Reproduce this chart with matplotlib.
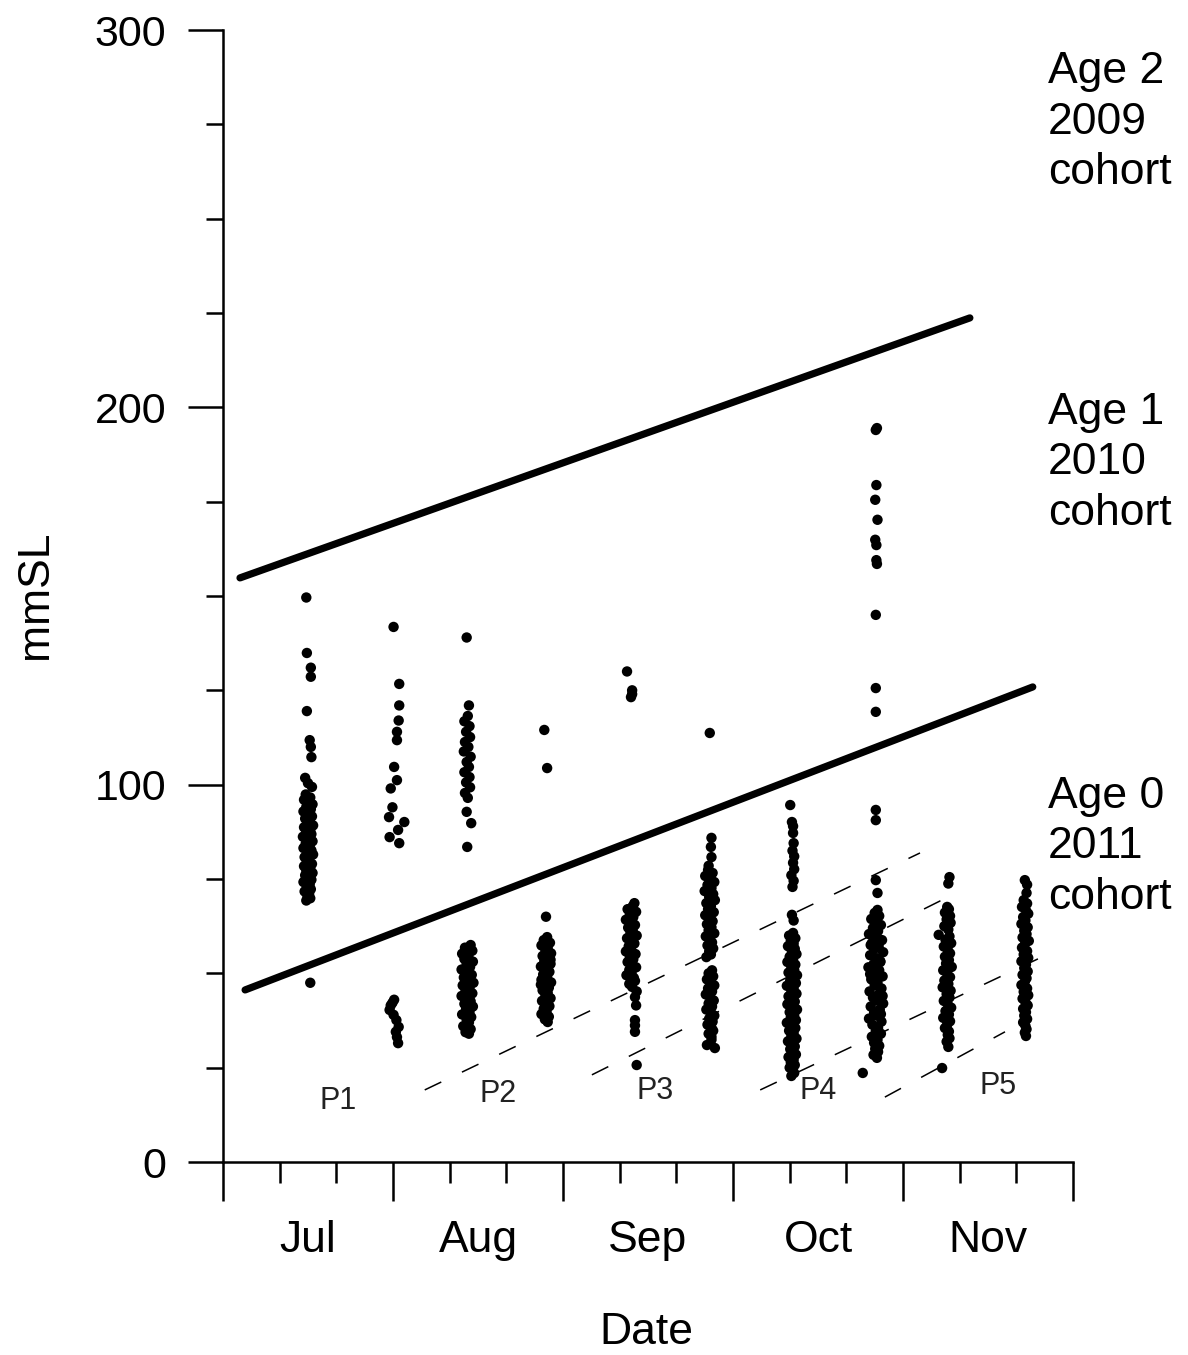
import matplotlib
matplotlib.use("Agg")
import matplotlib.pyplot as plt

plt.rcParams['font.family'] = ['Liberation Sans', 'DejaVu Sans']

# ---------------- data ----------------
# sampling days (days since 1 July) and (day offset, mmSL) readings per sample
sample_days = [15.0, 30.8, 43.1, 57.0, 72.0, 85.9, 100.4, 115.2, 127.8, 141.5]

s1 = [(-0.3,149.6),(-0.2,134.9),(0.5,131.0),(0.5,128.6),(-0.2,119.5),(0.3,111.8),(0.5,110.0),(0.6,107.3),(-0.5,101.8),(0.0,100.4),(0.7,99.4),
      (-0.4,97.4),(0.4,96.6),(-0.7,96.0),(0.2,95.3),(0.8,94.8),(-0.3,94.1),(0.5,93.5),(-0.8,92.9),(0.1,92.3),(0.7,91.6),(-0.5,91.0),(0.3,90.5),
      (-0.1,89.8),(0.9,89.2),(-0.7,88.7),(0.4,88.0),(-0.3,87.4),(0.6,86.9),(-0.9,86.2),(0.1,85.6),(0.8,85.0),(-0.4,84.4),(0.3,83.9),(-0.8,83.2),
      (0.6,82.6),(-0.1,82.0),(0.9,81.5),(-0.6,80.8),(0.2,80.2),(-0.2,79.7),(0.7,79.0),(-0.7,78.4),(0.4,77.8),(-0.3,77.3),(0.8,76.6),(-0.5,76.0),
      (0.1,75.4),(0.6,74.8),(-0.8,74.2),(0.3,73.6),(-0.2,73.0),(0.5,72.3),(-0.6,71.7),(0.2,71.1),(-0.1,70.5),(0.4,69.9),(-0.3,69.3),
      (0.4,47.5)]

s2 = [(-0.7,141.8),(0.3,126.7),(0.3,121.0),(0.2,117.0),(-0.1,114.0),(-0.1,111.8),(-0.6,104.7),(-0.1,101.2),(-1.2,99.0),(-0.9,94.0),
      (-1.5,91.4),(1.2,90.1),(0.1,88.0),(-1.4,86.1),(0.3,84.5),
      (-0.6,43.0),(-1.2,41.5),(-1.4,40.3),(-0.7,39.0),(-0.2,37.6),(0.2,35.8),(-0.3,34.5),(-0.1,33.1),(0.1,31.5),(-0.9,42.2)]

s3 = [(-0.1,139.0),(0.3,121.0),(0.1,118.2),(-0.5,116.8),(0.4,115.5),(-0.2,114.0),(0.5,112.6),(-0.4,111.3),(0.2,110.0),(-0.6,108.8),
      (0.6,107.4),(-0.1,106.0),(0.3,104.7),(-0.5,103.3),(0.4,102.0),(-0.2,100.6),(0.5,99.3),(-0.4,97.8),(0.1,96.5),(-0.1,92.8),(0.7,89.8),(0.0,83.5),
      (0.6,57.5),(-0.4,56.8),(0.9,56.0),(-0.9,55.2),(0.2,54.6),(-0.5,53.8),(1.0,53.1),(-0.1,52.4),(0.5,51.7),(-1.0,51.0),(0.2,50.3),(0.8,49.6),
      (-0.6,48.9),(0.0,48.2),(1.1,47.5),(-0.8,46.8),(0.4,46.1),(-0.3,45.4),(0.9,44.7),(-1.0,44.0),(0.1,43.3),(0.6,42.6),(-0.5,41.9),(1.0,41.2),
      (-0.2,40.5),(0.4,39.8),(-0.9,39.1),(0.7,38.4),(-0.1,37.7),(0.3,37.0),(-0.7,36.0),(0.6,35.2),(-0.3,34.4),(0.3,34.0)]

s4 = [(-0.3,114.5),(0.2,104.4),(0.0,65.0),
      (0.2,59.6),(-0.4,58.8),(0.7,58.1),(-0.8,57.4),(0.3,56.7),(-0.1,56.0),(0.9,55.3),(-0.6,54.6),(0.4,53.9),(-0.3,53.2),(0.8,52.5),(-0.9,51.8),
      (0.1,51.1),(0.6,50.4),(-0.5,49.7),(0.2,49.0),(-0.8,48.3),(0.9,47.6),(-0.2,46.9),(0.5,46.2),(-0.6,45.5),(0.3,44.8),(-0.1,44.1),(0.8,43.4),
      (-0.7,42.7),(0.2,42.0),(0.6,41.3),(-0.4,40.6),(0.1,39.9),(-0.8,39.2),(0.5,38.5),(-0.2,37.8),(0.3,37.1),(0.8,53.6),(-0.9,47.0)]

s5 = [(-0.7,130.0),(0.2,125.0),(0.2,124.0),(0.0,123.2),
      (0.6,68.6),(0.3,67.8),(-0.6,67.0),(0.9,66.3),(-0.2,65.6),(0.4,64.9),(-0.9,64.2),(0.1,63.5),(0.7,62.8),(-0.5,62.1),(0.3,61.4),(-0.1,60.7),
      (1.0,60.0),(-0.7,59.3),(0.2,58.6),(0.6,57.9),(-0.4,57.2),(0.0,56.5),(-0.9,55.8),(0.8,55.1),(-0.2,54.4),(0.4,53.7),(-0.6,53.0),(0.2,52.3),
      (0.9,51.6),(-0.3,50.9),(0.1,50.2),(-0.8,49.5),(0.5,48.8),(0.7,48.0),(-0.3,47.2),(0.2,46.4),(1.0,45.2),(0.7,43.7),(0.9,41.5),(0.7,37.6),
      (0.7,36.2),(0.7,34.5),(1.0,25.7)]

s6 = [(0.0,113.7),(0.3,85.9),(0.2,83.5),(0.3,80.8),(-0.2,78.5),
      (-0.3,77.4),(0.5,76.6),(-0.8,75.8),(0.2,75.0),(0.8,74.2),(-0.4,73.4),(0.3,72.6),(-0.9,71.8),(0.6,71.0),(-0.1,70.2),(0.9,69.4),(-0.6,68.6),
      (0.2,67.8),(-0.3,67.0),(0.7,66.2),(-0.8,65.4),(0.1,64.6),(0.5,63.8),(-0.5,63.0),(0.3,62.2),(-0.2,61.4),(0.8,60.6),(-0.7,59.8),(0.0,59.0),
      (0.4,58.2),(-0.4,57.4),(0.6,56.6),(-0.1,55.8),(0.2,55.0),(-0.6,54.3),
      (0.4,50.8),(-0.2,50.0),(0.6,49.2),(-0.5,48.4),(0.2,47.6),(0.8,46.8),(-0.3,46.0),(0.4,45.2),(-0.7,44.4),(0.1,43.6),(0.7,42.8),(-0.2,42.0),
      (0.4,41.2),(-0.6,40.4),(0.2,39.6),(0.8,38.8),(-0.1,38.0),(0.5,37.2),(-0.4,36.4),(0.3,35.6),(0.6,34.8),(-0.2,34.0),(0.3,33.2),(-0.5,31.0),
      (0.9,30.2),(0.3,32.4)]

s7 = [(-0.3,94.6),(0.0,90.1),(0.2,89.0),(0.2,87.2),(0.3,84.5),(0.1,82.5),(0.4,81.0),(0.2,79.3),(0.4,77.6),(-0.1,76.0),(0.3,74.5),(0.1,72.9),
      (0.0,65.5),(0.3,64.0),
      (0.2,60.7),(-0.5,60.0),(0.6,59.3),(-0.2,58.6),(0.3,57.9),(-0.7,57.2),(0.5,56.5),(0.0,55.8),(0.8,55.1),(-0.4,54.4),(0.2,53.7),(-0.8,53.0),
      (0.6,52.3),(-0.1,51.6),(0.4,50.9),(-0.6,50.2),(0.9,49.5),(0.1,48.8),(-0.3,48.1),(0.7,47.4),(-0.9,46.7),(0.3,46.0),(-0.1,45.3),(0.8,44.6),
      (-0.6,43.9),(0.2,43.2),(0.5,42.5),(-0.8,41.8),(0.0,41.1),(0.9,40.4),(-0.4,39.7),(0.4,39.0),(-0.2,38.3),(0.7,37.6),(-0.9,36.9),(0.1,36.2),
      (0.6,35.5),(-0.5,34.8),(0.3,34.1),(-0.1,33.4),(0.8,32.7),(-0.7,32.0),(0.2,31.3),(0.5,30.6),(-0.3,29.9),(0.0,29.2),(0.7,28.5),(-0.6,27.8),
      (0.3,27.1),(-0.2,26.4),(0.5,25.7),(-0.4,25.0),(0.1,24.3),(0.4,23.6),(-0.1,22.8)]

s8 = [(0.2,194.5),(0.0,194.0),(0.1,179.4),(-0.1,175.5),(0.3,170.2),(-0.1,164.9),(0.1,163.5),(0.1,159.5),(0.2,158.5),(0.0,145.0),
      (0.0,125.6),(0.0,119.3),(0.0,93.3),(0.0,90.6),(0.0,74.7),(0.3,71.3),
      (0.3,66.8),(-0.2,66.0),(0.6,65.2),(-0.8,64.4),(0.1,63.6),(0.9,62.8),(-0.5,62.0),(0.4,61.2),(-1.2,60.4),(0.0,59.6),(1.1,58.8),(-0.7,58.0),
      (0.5,57.2),(-0.3,56.4),(1.3,55.6),(-1.0,54.8),(0.2,54.0),(0.8,53.2),(-0.4,52.4),(-1.3,51.6),(0.6,50.8),(0.0,50.0),(1.2,49.2),(-0.8,48.4),
      (0.3,47.6),(-0.2,46.8),(1.0,46.0),(-1.1,45.2),(0.5,44.4),(-0.5,43.6),(0.1,42.8),(1.3,42.0),(-0.9,41.2),(0.7,40.4),(-0.3,39.6),(0.2,38.8),
      (-1.2,38.0),(1.0,37.2),(-0.6,36.4),(0.4,35.6),(0.0,34.8),(0.9,34.0),(-0.7,33.2),(0.3,32.4),(-0.3,31.6),(0.6,30.8),(-0.1,30.0),(0.4,29.2),
      (-0.4,28.4),(0.2,27.6),(0.8,53.0),(-0.9,57.5),(1.2,44.0),(-1.0,49.8),(0.9,39.2),(-0.6,61.0),(-2.3,23.6)]

s9 = [(0.4,75.5),(0.2,73.8),(0.0,67.6),
      (0.3,67.0),(-0.4,66.1),(0.5,65.2),(-0.1,64.3),(0.6,63.4),(-0.5,62.5),(0.2,61.6),(-1.5,60.2),(0.4,59.8),(-0.3,58.9),(0.7,58.0),(-0.6,57.1),
      (0.1,56.2),(0.5,55.3),(-0.4,54.4),(0.3,53.5),(-0.2,52.6),(0.8,51.7),(-0.7,50.8),(0.0,49.9),(0.5,49.0),(-0.5,48.1),(0.2,47.2),(-0.8,46.3),
      (0.6,45.4),(-0.1,44.5),(0.4,43.6),(-0.6,42.7),(0.1,41.8),(0.7,40.9),(-0.3,40.0),(0.3,39.1),(-0.7,38.2),(0.5,37.3),(0.0,36.4),(-0.4,35.5),
      (0.3,34.6),(0.1,33.7),(0.4,32.8),(-0.1,31.9),(0.2,30.5),(-0.9,24.9)]

s10 = [(0.0,74.7),(0.4,73.5),(0.3,71.3),
       (-0.2,69.4),(0.4,68.5),(-0.5,67.6),(0.2,66.7),(0.6,65.8),(-0.3,64.9),(0.1,64.0),(-0.6,63.1),(0.5,62.2),(-0.1,61.3),(0.3,60.4),(-0.4,59.5),
       (0.7,58.6),(0.0,57.7),(-0.5,56.8),(0.4,55.9),(-0.2,55.0),(0.6,54.1),(-0.6,53.2),(0.2,52.3),(-0.1,51.4),(0.5,50.5),(-0.4,49.6),(0.3,48.7),
       (0.0,47.8),(-0.6,46.9),(0.4,46.0),(-0.2,45.1),(0.6,44.2),(-0.4,43.3),(0.1,42.4),(0.5,41.5),(-0.3,40.6),(0.2,39.7),(-0.1,38.8),(0.4,37.9),
       (-0.3,37.0),(0.1,36.1),(0.3,35.2),(0.0,34.3),(0.2,33.4)]

samples = [s1, s2, s3, s4, s5, s6, s7, s8, s9, s10]

# cohort separation lines (day, mmSL)
cohort_lines = [[(3.0, 154.8), (131.8, 223.7)],
                [(3.9, 45.6), (142.9, 125.9)]]
# progression (P) dashed lines
p_lines = [[(35.6, 19.1), (123.0, 81.9)],
           [(65.1, 23.1), (128.3, 70.5)],
           [(94.8, 19.1), (144.2, 54.1)],
           [(116.8, 17.2), (138.0, 34.5)]]
p_labels = ["P1", "P2", "P3", "P4", "P5"]
p_label_pos = [(20.4, 16.2), (48.5, 18.1), (76.2, 18.8), (105.0, 18.8), (136.8, 20.1)]

month_labels = ["Jul", "Aug", "Sep", "Oct", "Nov"]
month_label_x = [15, 45, 75, 105, 135]
cohort_texts = ["Age 2\n2009\ncohort", "Age 1\n2010\ncohort", "Age 0\n2011\ncohort"]
cohort_text_y = [275.6, 185.3, 83.5]

# ---------------- figure ----------------
W, H = 1188, 1355
fig = plt.figure(figsize=(W / 100, H / 100), dpi=100)
ax = fig.add_axes([223 / W, 1 - 1162 / H, 850 / W, 1132 / H])
ax.set_xlim(0, 150)
ax.set_ylim(0, 300)

for day, pts in zip(sample_days, samples):
    xs = [day + o for o, v in pts]
    ys = [v for o, v in pts]
    ax.scatter(xs, ys, s=56, c='black', edgecolors='none', zorder=3, clip_on=False)

for ln in cohort_lines:
    ax.plot([ln[0][0], ln[1][0]], [ln[0][1], ln[1][1]], color='black', lw=5.2,
            solid_capstyle='round', zorder=2)

for ln in p_lines:
    ax.plot([ln[0][0], ln[1][0]], [ln[0][1], ln[1][1]], color='black', lw=1.1,
            dashes=(12, 15), zorder=1)

for lab, (x, y) in zip(p_labels, p_label_pos):
    ax.text(x, y, lab, fontsize=22, ha='center', va='center', color='#222222')

for t, y in zip(cohort_texts, cohort_text_y):
    ax.text(145.6, y, t, fontsize=32, ha='left', va='center', linespacing=1.3,
            clip_on=False)

# spines and ticks
for side in ['top', 'right']:
    ax.spines[side].set_visible(False)
for side in ['left', 'bottom']:
    ax.spines[side].set_linewidth(1.8)

ax.set_xticks([0, 30, 60, 90, 120, 150])
ax.set_xticklabels([])
ax.set_xticks([10, 20, 40, 50, 70, 80, 100, 110, 130, 140], minor=True)
ax.set_yticks([0, 100, 200, 300])
ax.set_yticklabels(['0', '100', '200', '300'], fontsize=31)
ax.set_yticks([25, 50, 75, 125, 150, 175, 225, 250, 275], minor=True)
ax.tick_params(axis='x', which='major', direction='out', length=28, width=1.8)
ax.tick_params(axis='x', which='minor', direction='out', length=15, width=1.8)
ax.tick_params(axis='y', which='major', direction='out', length=25, width=1.8, pad=16)
ax.tick_params(axis='y', which='minor', direction='out', length=12.5, width=1.8)

xt = ax.get_xaxis_transform()
for lab, x in zip(month_labels, month_label_x):
    ax.text(x, -0.069, lab, transform=xt, fontsize=32, ha='center', va='center')

ax.text(74.8, -0.151, "Date", transform=xt, fontsize=32, ha='center', va='center')
fig.text(36 / W, 1 - 595 / H, "mmSL", fontsize=32, rotation=90, ha='center', va='center')

fig.savefig("out.png", dpi=100)
